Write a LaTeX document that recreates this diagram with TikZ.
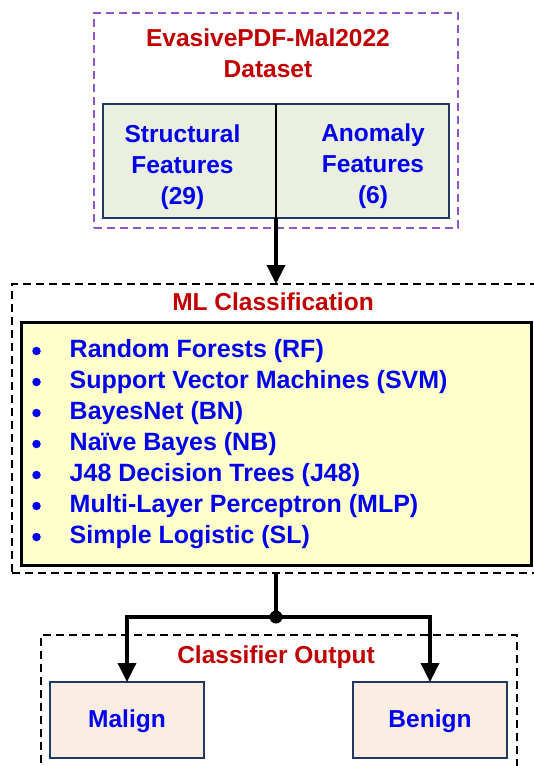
\documentclass[tikz,border=0pt]{standalone}
\usepackage{fontspec}
\setmainfont{Liberation Sans}
\usetikzlibrary{arrows.meta}
\definecolor{titlered}{HTML}{C00000}
\definecolor{itemblue}{HTML}{0000F0}
\definecolor{frameviolet}{HTML}{9355C4}
\definecolor{navy}{HTML}{1F3864}
\definecolor{sage}{HTML}{EBEFDF}
\definecolor{paleyellow}{HTML}{FFFFCC}
\definecolor{peach}{HTML}{FCEDE3}
\tikzset{
  txt/.style={font=\fontsize{24.5}{31}\selectfont\bfseries, inner sep=0pt},
  title/.style={txt, text=titlered},
  label/.style={txt, text=itemblue},
  listitem/.style={label, font=\fontsize{25}{31}\selectfont\bfseries},
  group/.style={draw, dashed, dash pattern=on 8pt off 5pt, line width=1.3pt,
    rectangle, inner sep=0pt, outer sep=0pt, anchor=north west},
  panel/.style={draw, rectangle, inner sep=0pt, outer sep=0pt, anchor=north west},
  flow/.style={line width=3.5pt, -{Triangle[length=19pt,width=18pt]}},
  wire/.style={line width=3.5pt},
  dot/.style={circle, fill=itemblue, inner sep=0pt, minimum size=8.5pt}
}
\begin{document}
\begin{tikzpicture}[x=1pt,y=-1pt]
\useasboundingbox (0,0) rectangle (533,766);

% dataset block
\node[group, draw=frameviolet, minimum width=364pt, minimum height=215pt] (dataset) at (94,13) {};
\node[title, align=center, anchor=base] (dstitle) at (268,77) {EvasivePDF-Mal2022\\Dataset};
\node[panel, fill=sage, draw=navy, line width=2.5pt, minimum width=346pt, minimum height=114pt] (feat) at (103,104) {};
\draw[line width=2pt] (feat.north) -- (feat.south);
\node[label, align=center] (struct) at (182.5,167.5) {Structural\\Features\\(29)};
\node[label, align=center] (anom) at (373,166.5) {Anomaly\\Features\\(6)};

% classification block
\node[group, minimum width=528pt, minimum height=289pt] (ml) at (12,284) {};
\node[title, anchor=base] (mltitle) at (273,310) {ML Classification};
\node[panel, fill=paleyellow, line width=3pt, minimum width=510pt, minimum height=243pt] (algos) at (21,322) {};
\foreach \name [count=\i from 0] in {
  Random Forests (RF),
  Support Vector Machines (SVM),
  BayesNet (BN),
  Na\"ive Bayes (NB),
  J48 Decision Trees (J48),
  Multi-Layer Perceptron (MLP),
  Simple Logistic (SL)} {
  \node[dot] (b\i) at (36.5,351+31*\i) {};
  \node[listitem, anchor=base west] (item\i) at (69.5,357.5+31*\i) {\name};
}

% output block
\node[group, minimum width=476pt, minimum height=150pt] (out) at (41,635) {};
\node[title, anchor=base] (outtitle) at (276,663) {Classifier Output};
\node[panel, fill=peach, draw=navy, line width=2.5pt, minimum width=154pt, minimum height=76pt] (malign) at (50,682) {};
\node[label, anchor=base] (maligntxt) at (malign.center |- 0,727) {Malign};
\node[panel, fill=peach, draw=navy, line width=2.5pt, minimum width=154pt, minimum height=76pt] (benign) at (353,682) {};
\node[label, anchor=base] (benigntxt) at (benign.center |- 0,727) {Benign};

% connectors
\coordinate (split) at (276,617);
\draw[flow] (feat.south) -- (ml.north);
\draw[wire] (ml.south) -- (split);
\draw[flow] (split) -| (malign.north);
\draw[flow] (split) -| (benign.north);
\fill (split) circle (6.5pt);
\end{tikzpicture}
\end{document}
